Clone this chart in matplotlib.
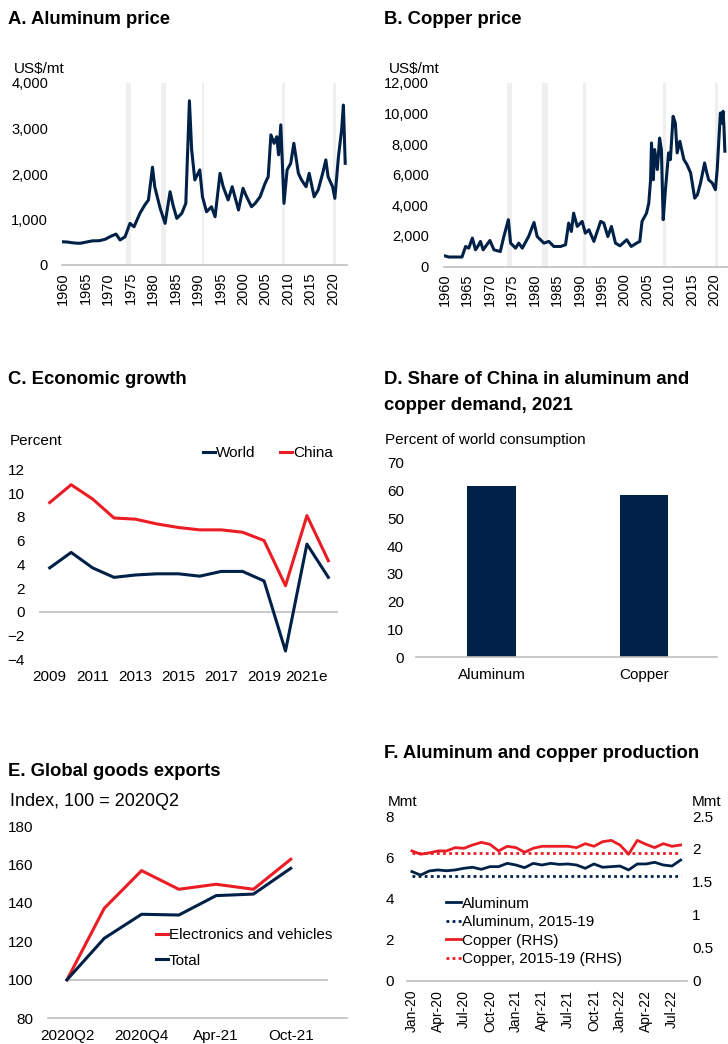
import matplotlib
matplotlib.use("Agg")
import matplotlib.pyplot as plt
from matplotlib.ticker import FuncFormatter
from matplotlib.lines import Line2D

plt.rcParams['font.family'] = ['Liberation Sans', 'DejaVu Sans']

NAVY = '#002147'
RED = '#EB1C24'
AXIS = '#BFBFBF'
SHADE = '#EFEFEF'

# ---- data ----
alu_years = [1960.0, 1961.0, 1962.0, 1963.0, 1963.8, 1965.0, 1966.5, 1968.2, 1969.5, 1970.4,
             1971.8, 1972.7, 1973.8, 1974.9, 1975.8, 1977.1, 1978.2, 1979.0, 1979.9, 1980.4,
             1981.6, 1982.7, 1983.8, 1984.5, 1985.3, 1986.4, 1987.3, 1988.1, 1988.6, 1989.3,
             1990.4, 1991.0, 1991.9, 1993.0, 1993.8, 1994.9, 1995.6, 1996.7, 1997.6, 1999.0,
             2000.0, 2000.8, 2001.9, 2002.7, 2003.8, 2004.9, 2005.6, 2006.2, 2006.9, 2007.5,
             2007.9, 2008.4, 2009.1, 2009.8, 2010.6, 2011.3, 2012.3, 2013.0, 2014.0, 2014.7,
             2015.8, 2016.7, 2017.7, 2018.4, 2018.9, 2019.9, 2020.4, 2021.2, 2021.9, 2022.3, 2022.7]
alu_price = [510, 505, 490, 480, 477, 500, 530, 535, 570, 620,
             680, 550, 620, 915, 840, 1135, 1320, 1430, 2150, 1720,
             1245, 915, 1610, 1300, 1025, 1135, 1355, 3610, 2530, 1870,
             2090, 1500, 1170, 1280, 1060, 2015, 1720, 1430, 1720, 1210,
             1685, 1500, 1280, 1355, 1500, 1795, 1940, 2860, 2675, 2820,
             2420, 3080, 1355, 2090, 2235, 2675, 2015, 1870, 1720, 2015,
             1500, 1650, 2015, 2310, 1940, 1720, 1465, 2380, 2970, 3515, 2235]

cu_years = [1960.0, 1961.0, 1962.5, 1963.9, 1964.7, 1965.4, 1966.2, 1966.9, 1967.4, 1968.0,
            1968.6, 1970.1, 1971.0, 1972.4, 1973.2, 1974.2, 1974.7, 1975.8, 1976.5, 1977.3,
            1978.7, 1979.9, 1980.6, 1982.1, 1983.2, 1984.3, 1985.8, 1986.9, 1987.6, 1988.2,
            1988.7, 1989.5, 1990.6, 1991.3, 1992.1, 1993.2, 1994.7, 1995.4, 1996.3, 1997.1,
            1998.0, 1999.0, 2000.5, 2001.5, 2002.7, 2003.4, 2003.9, 2004.9, 2005.4, 2005.8,
            2006.0, 2006.4, 2006.7, 2007.3, 2007.8, 2008.2, 2008.6, 2009.1, 2009.8, 2010.2,
            2010.8, 2011.3, 2011.7, 2012.3, 2013.2, 2013.9, 2014.7, 2015.6, 2016.2, 2016.9,
            2017.8, 2018.2, 2018.7, 2019.5, 2020.2, 2020.6, 2021.3, 2021.6, 2021.9, 2022.1, 2022.3]
cu_price = [700, 620, 620, 620, 1310, 1200, 1860, 1090, 1310, 1640,
            1090, 1700, 1090, 980, 1960, 3060, 1530, 1200, 1530, 1200,
            1960, 2880, 1960, 1530, 1640, 1310, 1310, 1420, 2840, 2290,
            3490, 2620, 2950, 2180, 2400, 1640, 2950, 2840, 1960, 2620,
            1530, 1350, 1750, 1310, 1530, 1640, 2950, 3490, 4150, 5670,
            8080, 5670, 7650, 6340, 8400, 7650, 3060, 5020, 7430, 6990,
            9820, 9380, 7430, 8190, 6990, 6660, 6120, 4470, 4690, 5460,
            6770, 6230, 5670, 5460, 5020, 6340, 10040, 9380, 10150, 9160, 7540]

# global recessions (shaded)
rec_start = [1974.0, 1981.7, 1990.8, 2008.6, 2020.1]
rec_end = [1975.1, 1982.9, 1991.4, 2009.3, 2020.7]

growth_years = list(range(2009, 2023))
growth_labels = ['2009', '2011', '2013', '2015', '2017', '2019', '2021e']
world = [3.7, 5.0, 3.7, 2.9, 3.1, 3.2, 3.2, 3.0, 3.4, 3.4, 2.6, -3.3, 5.7, 2.9]
china = [9.2, 10.7, 9.5, 7.9, 7.8, 7.4, 7.1, 6.9, 6.9, 6.7, 6.0, 2.2, 8.1, 4.3]

metals = ['Aluminum', 'Copper']
china_share = [61.5, 58.4]

export_labels = ['2020Q2', '2020Q4', 'Apr-21', 'Oct-21']
elec = [100, 137.2, 156.8, 147.1, 149.7, 147.1, 162.7]
total = [100, 121.6, 134.1, 133.7, 143.8, 144.6, 158.0]

months = ['Jan-20', 'Feb-20', 'Mar-20', 'Apr-20', 'May-20', 'Jun-20', 'Jul-20', 'Aug-20',
          'Sep-20', 'Oct-20', 'Nov-20', 'Dec-20', 'Jan-21', 'Feb-21', 'Mar-21', 'Apr-21',
          'May-21', 'Jun-21', 'Jul-21', 'Aug-21', 'Sep-21', 'Oct-21', 'Nov-21', 'Dec-21',
          'Jan-22', 'Feb-22', 'Mar-22', 'Apr-22', 'May-22', 'Jun-22', 'Jul-22', 'Aug-22']
alu_prod = [5.30, 5.13, 5.33, 5.38, 5.34, 5.38, 5.46, 5.51, 5.41, 5.54, 5.54, 5.70,
            5.62, 5.49, 5.70, 5.62, 5.70, 5.65, 5.67, 5.62, 5.46, 5.67, 5.51, 5.54,
            5.57, 5.38, 5.67, 5.67, 5.75, 5.62, 5.57, 5.86]
cu_prod = [1.97, 1.92, 1.94, 1.97, 1.97, 2.02, 2.01, 2.06, 2.10, 2.07, 1.97, 2.04,
           2.02, 1.95, 2.01, 2.04, 2.04, 2.04, 2.04, 2.02, 2.08, 2.04, 2.11, 2.13,
           2.06, 1.92, 2.13, 2.07, 2.02, 2.08, 2.04, 2.06]
alu_avg = 5.08
cu_avg = 1.94

# ---- layout helpers (pixel boxes) ----
W, H = 728, 1044
fig = plt.figure(figsize=(W / 100, H / 100), dpi=100)


def box(l, t, r, b):
    return [l / W, 1 - b / H, (r - l) / W, (b - t) / H]


def ftext(x, y, s, **kw):
    fig.text(x / W, 1 - y / H, s, va='center', **kw)


def style(ax, ypad=8, xpad=6, ysize=11):
    for s in ['top', 'right', 'left']:
        ax.spines[s].set_visible(False)
    ax.spines['bottom'].set_color(AXIS)
    ax.spines['bottom'].set_linewidth(1.2)
    ax.tick_params(axis='y', length=0, labelsize=ysize, pad=ypad)
    ax.tick_params(axis='x', length=0, pad=xpad)
    ax.patch.set_alpha(0)


thousands = FuncFormatter(lambda v, p: f'{v:,.0f}')
dotted = (0, (1, 1.2))

# ---- A. Aluminum price ----
axA = fig.add_axes(box(62, 83, 347, 265))
for s0, s1 in zip(rec_start, rec_end):
    axA.axvspan(s0, s1, color=SHADE, lw=0, zorder=0)
axA.plot(alu_years, alu_price, color=NAVY, lw=2.2)
axA.set_xlim(1959.8, 2023.1)
axA.set_ylim(0, 4000)
axA.set_yticks(range(0, 4001, 1000))
axA.yaxis.set_major_formatter(thousands)
axA.set_xticks(range(1960, 2021, 5))
axA.set_xticklabels([str(y) for y in range(1960, 2021, 5)], rotation=90, fontsize=10.5)
style(axA, ypad=10, xpad=5, ysize=10.5)
ftext(8, 20, 'A. Aluminum price', fontsize=13.3, fontweight='bold')
ftext(14, 69, 'US$/mt', fontsize=11)

# ---- B. Copper price ----
axB = fig.add_axes(box(444, 83, 728, 266.5))
for s0, s1 in zip(rec_start, rec_end):
    axB.axvspan(s0, s1, color=SHADE, lw=0, zorder=0)
axB.plot(cu_years, cu_price, color=NAVY, lw=2.2)
axB.set_xlim(1959.9, 2023.0)
axB.set_ylim(0, 12000)
axB.set_yticks(range(0, 12001, 2000))
axB.yaxis.set_major_formatter(thousands)
axB.set_xticks(range(1960, 2021, 5))
axB.set_xticklabels([str(y) for y in range(1960, 2021, 5)], rotation=90, fontsize=10.5)
style(axB, ypad=11, xpad=5, ysize=10.5)
ftext(384, 20, 'B. Copper price', fontsize=13.3, fontweight='bold')
ftext(389, 69, 'US$/mt', fontsize=11)

# ---- C. Economic growth ----
axC = fig.add_axes(box(39, 469.3, 338, 659.3))
axC.axhline(0, color=AXIS, lw=1.2, zorder=1)
lw_world, = axC.plot(growth_years, world, color=NAVY, lw=2.2, zorder=3)
lw_china, = axC.plot(growth_years, china, color=RED, lw=2.2, zorder=3)
axC.set_xlim(2008.5, 2022.45)
axC.set_ylim(-4, 12)
axC.set_yticks(range(-4, 13, 2))
axC.set_xticks(range(2009, 2022, 2))
axC.set_xticklabels(growth_labels, fontsize=11)
style(axC, ypad=10, xpad=8)
axC.spines['bottom'].set_visible(False)
ftext(8, 380, 'C. Economic growth', fontsize=13.3, fontweight='bold')
ftext(10, 441, 'Percent', fontsize=11)
fig.legend(handles=[lw_world, lw_china], labels=['World', 'China'], loc='center left',
           bbox_to_anchor=(203 / W, 1 - 453 / H), ncol=2, frameon=False, fontsize=11,
           handlelength=0.8, handletextpad=0.05, columnspacing=1.6, borderpad=0,
           borderaxespad=0)

# ---- D. Share of China ----
axD = fig.add_axes(box(415.7, 462.7, 717, 657.3))
axD.bar(range(len(metals)), china_share, width=0.32, color=NAVY)
axD.set_xlim(-0.5, 1.48)
axD.set_ylim(0, 70)
axD.set_yticks(range(0, 71, 10))
axD.set_xticks(range(len(metals)))
axD.set_xticklabels(metals, fontsize=11)
style(axD, ypad=8.5, xpad=8)
ftext(384, 380, 'D. Share of China in aluminum and', fontsize=13.3, fontweight='bold')
ftext(384, 406, 'copper demand, 2021', fontsize=13.3, fontweight='bold')
ftext(385, 440, 'Percent of world consumption', fontsize=11)

# ---- E. Global goods exports ----
axE = fig.add_axes(box(48.3, 826, 346.7, 1018.3))
axE.hlines(100, 0, len(total), color=AXIS, lw=1.2, zorder=1)
le, = axE.plot(range(len(elec)), elec, color=RED, lw=2.2, zorder=3)
lt, = axE.plot(range(len(total)), total, color=NAVY, lw=2.2, zorder=3)
axE.set_xlim(-0.5, 7.5)
axE.set_ylim(80, 180)
axE.set_yticks(range(80, 181, 20))
axE.set_xticks(range(0, 7, 2))
axE.set_xticklabels(export_labels, fontsize=11)
style(axE, ypad=11, xpad=8)
ftext(8, 772, 'E. Global goods exports', fontsize=13.3, fontweight='bold')
ftext(10, 801, 'Index, 100 = 2020Q2', fontsize=13)
fig.legend(handles=[le, lt], labels=['Electronics and vehicles', 'Total'],
           loc='center left', bbox_to_anchor=(156 / W, 1 - 948 / H), frameon=False,
           fontsize=11, handlelength=0.8, handletextpad=0.05, labelspacing=0.75,
           borderpad=0, borderaxespad=0)

# ---- F. Aluminum and copper production ----
axF = fig.add_axes(box(406.7, 816, 686.7, 980.7))
axF2 = axF.twinx()
x = range(len(months))
axF.plot(x, alu_prod, color=NAVY, lw=2.0, zorder=3)
axF.hlines(alu_avg, 0, len(months) - 1, color=NAVY, lw=2.0, linestyles=[dotted])
axF2.plot(x, cu_prod, color=RED, lw=2.0, zorder=3)
axF2.hlines(cu_avg, 0, len(months) - 1, color=RED, lw=2.0, linestyles=[dotted])
axF.set_xlim(-0.6, 31.7)
axF.set_ylim(0, 8)
axF.set_yticks(range(0, 9, 2))
axF2.set_ylim(0, 2.5)
axF2.set_yticks([0, 0.5, 1, 1.5, 2, 2.5])
axF2.set_yticklabels(['0', '0.5', '1', '1.5', '2', '2.5'])
axF.set_xticks(range(0, len(months), 3))
axF.set_xticklabels(months[::3], rotation=90, fontsize=10)
style(axF, ypad=9, xpad=6.5)
style(axF2, ypad=4)
axF2.spines['bottom'].set_visible(False)
ftext(384, 753, 'F. Aluminum and copper production', fontsize=13.3, fontweight='bold')
ftext(388, 802, 'Mmt', fontsize=11)
ftext(692, 802, 'Mmt', fontsize=11)
f_handles = [Line2D([], [], color=NAVY, lw=2.0),
             Line2D([], [], color=NAVY, lw=2.0, linestyle=dotted),
             Line2D([], [], color=RED, lw=2.0),
             Line2D([], [], color=RED, lw=2.0, linestyle=dotted)]
fig.legend(handles=f_handles,
           labels=['Aluminum', 'Aluminum, 2015-19', 'Copper (RHS)', 'Copper, 2015-19 (RHS)'],
           loc='center left', bbox_to_anchor=(446 / W, 1 - 931.5 / H), frameon=False,
           fontsize=11, handlelength=1.0, handletextpad=0.05, labelspacing=0.3,
           borderpad=0, borderaxespad=0)

fig.savefig('out.png', dpi=100)
